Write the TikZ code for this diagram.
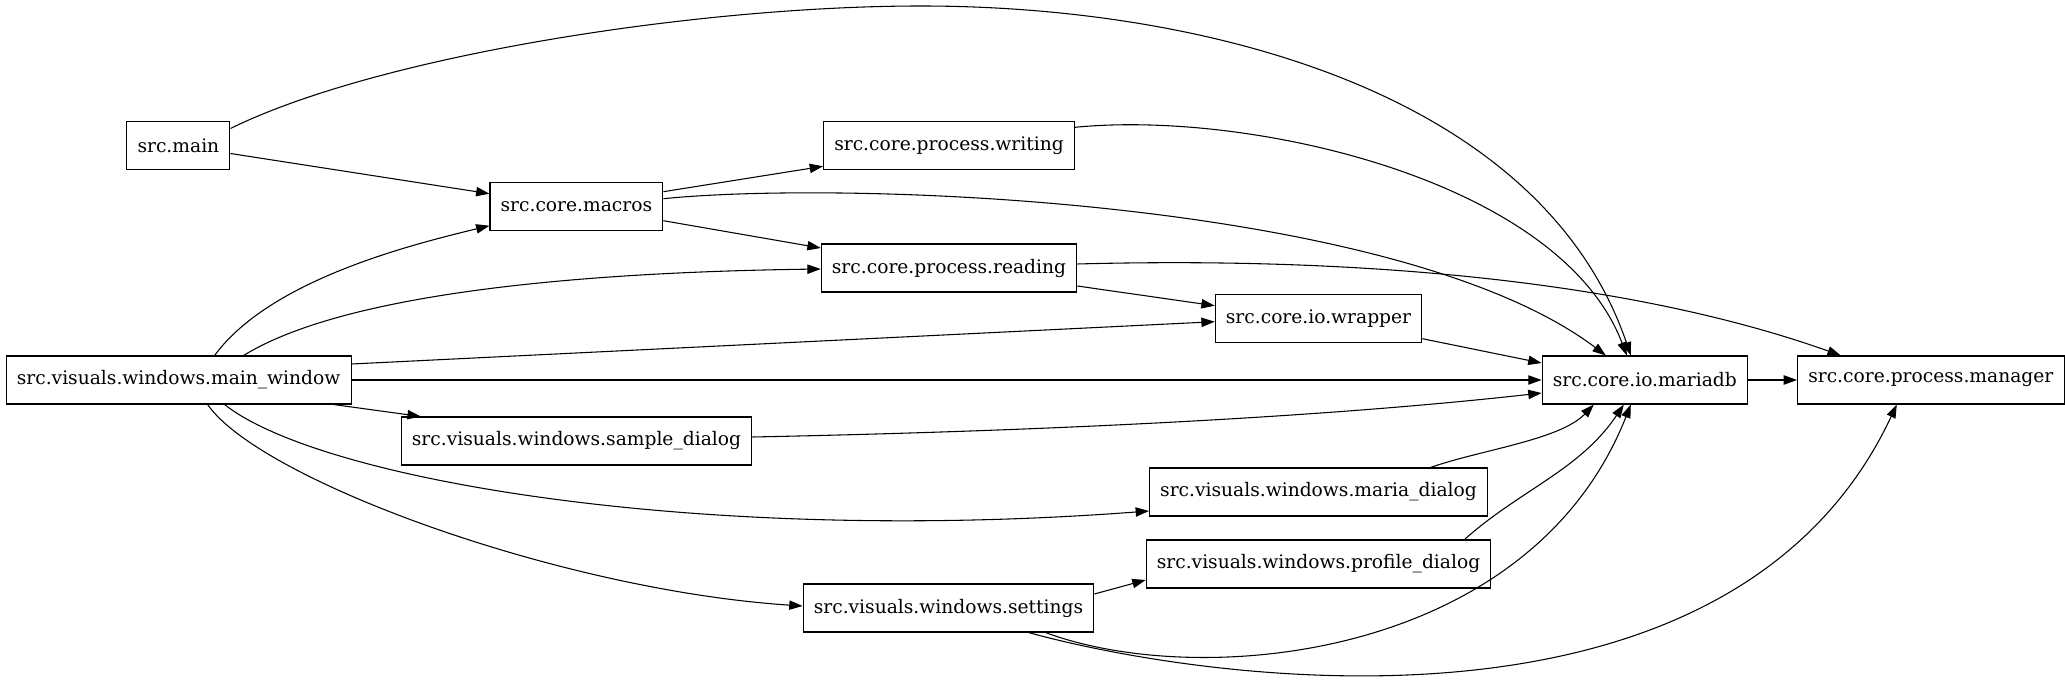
\documentclass[tikz,border=0pt]{standalone}
\usepackage{fontspec}
\setmainfont{DejaVu Serif}
\usetikzlibrary{arrows.meta, calc}
\tikzset{
    % module boxes and import arrows
    module/.style={rectangle,draw=black,line width=0.8pt,minimum height=36pt,inner xsep=8pt,inner ysep=0pt,font=\fontsize{14}{17}\selectfont},
    dep/.style={-{Triangle[length=10pt,width=7pt]},line width=0.8pt}
}

\begin{document}
\begin{tikzpicture}[x=0.75pt, y=-0.75pt]
    \useasboundingbox (0,0) rectangle (2065,684);

    % Rank 1
    \node[module] (main) at (178.4,145.5) {src.main};
    \node[module] (mainwin) at (178.6,380) {src.visuals.windows.main\_window};

    % Rank 2
    \node[module] (macros) at (576.4,206.7) {src.core.macros};
    \node[module] (sample) at (576.5,441) {src.visuals.windows.sample\_dialog};

    % Rank 3
    \node[module] (writing) at (949,145.3) {src.core.process.writing};
    \node[module] (reading) at (949,268) {src.core.process.reading};
    \node[module] (settings) at (948.5,608) {src.visuals.windows.settings};

    % Rank 4
    \node[module] (wrapper) at (1318.5,318.7) {src.core.io.wrapper};
    \node[module] (mariadlg) at (1318.5,492) {src.visuals.windows.maria\_dialog};
    \node[module] (profile) at (1318.5,564) {src.visuals.windows.profile\_dialog};

    % Rank 5 and 6
    \node[module] (mariadb) at (1644.8,380) {src.core.io.mariadb};
    \node[module] (manager) at (1930.8,380) {src.core.process.manager};

    % Imports of src.main
    \draw[dep] ($(main.east)+(0,-17)$) .. controls (380,55) and (700,6) .. (921,6)
        .. controls (1200,6) and (1540,90) .. ($(mariadb.north)+(-14,0)$);
    \draw[dep] ($(main.east)+(0,8)$) -- ($(macros.west)+(0,-13)$);

    % Imports of src.core.macros
    \draw[dep] ($(macros.east)+(0,-15)$) -- ($(writing.west)+(0,21)$);
    \draw[dep] ($(macros.east)+(0,-8)$) .. controls (850,180) and (1400,200) .. ($(mariadb.north)+(-39,0)$);
    \draw[dep] ($(macros.east)+(0,14)$) -- ($(reading.west)+(0,-20)$);

    % Imports of the process modules
    \draw[dep] ($(writing.east)+(0,-18)$) .. controls (1250,110) and (1560,180) .. ($(mariadb.north)+(-18,0)$);
    \draw[dep] ($(reading.east)+(0,-4)$) .. controls (1300,258) and (1600,270) .. ($(manager.north)+(-90,0)$);
    \draw[dep] ($(reading.east)+(0,18)$) -- ($(wrapper.west)+(0,-13)$);
    \draw[dep] ($(wrapper.east)+(0,20)$) -- ($(mariadb.west)+(0,-17)$);
    \draw[dep] (mariadb.east) -- (manager.west);

    % Imports of the main window
    \draw[dep] ($(mainwin.north)+(36,0)$) .. controls (270,280) and (410,245) .. ($(macros.west)+(0,19)$);
    \draw[dep] ($(mainwin.north)+(65,0)$) .. controls (350,290) and (600,272) .. ($(reading.west)+(0,1)$);
    \draw[dep] ($(mainwin.east)+(0,-16)$) -- ($(wrapper.west)+(0,3)$);
    \draw[dep] (mainwin.east) -- (mariadb.west);
    \draw[dep] ($(mainwin.south east)+(-18,0)$) -- ($(sample.north west)+(20,0)$);
    \draw[dep] ($(mainwin.south)+(46,0)$) .. controls (320,480) and (700,545) .. ($(mariadlg.west)+(0,19)$);
    \draw[dep] ($(mainwin.south)+(29,0)$) .. controls (260,480) and (560,590) .. ($(settings.west)+(0,-2)$);

    % Imports of the dialogs
    \draw[dep] ($(sample.east)+(0,-4)$) .. controls (1000,432) and (1300,420) .. ($(mariadb.west)+(0,13)$);
    \draw[dep] ($(mariadlg.north)+(112,0)$) .. controls (1480,450) and (1560,440) .. ($(mariadb.south)+(-51,0)$);
    \draw[dep] ($(profile.north)+(146,0)$) .. controls (1520,490) and (1580,470) .. ($(mariadb.south)+(-21,0)$);

    % Imports of the settings window
    \draw[dep] ($(settings.east)+(0,-14)$) -- ($(profile.west)+(0,16)$);
    \draw[dep] ($(settings.south)+(97,0)$) .. controls (1200,690) and (1530,660) .. ($(mariadb.south)+(-14,0)$);
    \draw[dep] ($(settings.south)+(80,0)$) .. controls (1200,680) and (1730,760) .. ($(manager.south)+(-34,0)$);
\end{tikzpicture}
\end{document}
